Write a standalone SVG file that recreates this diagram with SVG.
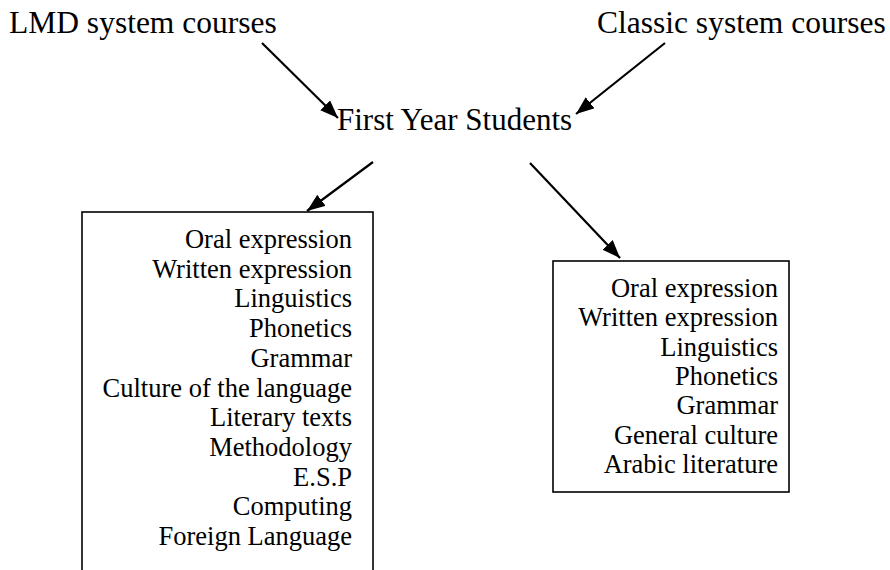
<svg xmlns="http://www.w3.org/2000/svg" width="890" height="570" viewBox="0 0 890 570">
<style>
text{font-family:"Liberation Serif","Times New Roman",serif;fill:#000}
.big{font-size:31.5px}
.item{font-size:26.5px;text-anchor:end}
.box{fill:#fff;stroke:#000;stroke-width:1.6}
.arrow{stroke:#000;stroke-width:2.2;fill:none;marker-end:url(#ah)}
</style>
<defs>
<marker id="ah" markerUnits="userSpaceOnUse" markerWidth="20" markerHeight="16" refX="18" refY="7" orient="auto">
<path d="M0,0 L18,7 L0,14 Z" fill="#000"/>
</marker>
</defs>
<rect width="890" height="570" fill="#fff"/>
<g id="lmd"><text class="big" x="9" y="33">LMD system courses</text></g>
<g id="classic"><text class="big" x="597" y="33">Classic system courses</text></g>
<g id="first"><text class="big" x="337" y="130" style="font-size:31px">First Year Students</text></g>
<g id="lmdbox">
<rect class="box" x="82" y="212" width="291" height="380"/>
<text class="item" x="352" y="248">Oral expression</text>
<text class="item" x="352" y="277.7">Written expression</text>
<text class="item" x="352" y="307.4">Linguistics</text>
<text class="item" x="352" y="337.1">Phonetics</text>
<text class="item" x="352" y="366.8">Grammar</text>
<text class="item" x="352" y="396.5">Culture of the language</text>
<text class="item" x="352" y="426.2">Literary texts</text>
<text class="item" x="352" y="455.9">Methodology</text>
<text class="item" x="352" y="485.6">E.S.P</text>
<text class="item" x="352" y="515.3">Computing</text>
<text class="item" x="352" y="545">Foreign Language</text>
</g>
<g id="classicbox">
<rect class="box" x="553" y="261" width="236" height="231"/>
<text class="item" x="778" y="297">Oral expression</text>
<text class="item" x="778" y="326.3">Written expression</text>
<text class="item" x="778" y="355.6">Linguistics</text>
<text class="item" x="778" y="384.9">Phonetics</text>
<text class="item" x="778" y="414.2">Grammar</text>
<text class="item" x="778" y="443.5">General culture</text>
<text class="item" x="778" y="472.8">Arabic literature</text>
</g>
<g id="connectors">
<line class="arrow" x1="262" y1="43" x2="338" y2="118"/>
<line class="arrow" x1="665" y1="43" x2="576" y2="114"/>
<line class="arrow" x1="373" y1="162" x2="307" y2="211"/>
<line class="arrow" x1="530" y1="163" x2="620" y2="258"/>
</g>
</svg>
